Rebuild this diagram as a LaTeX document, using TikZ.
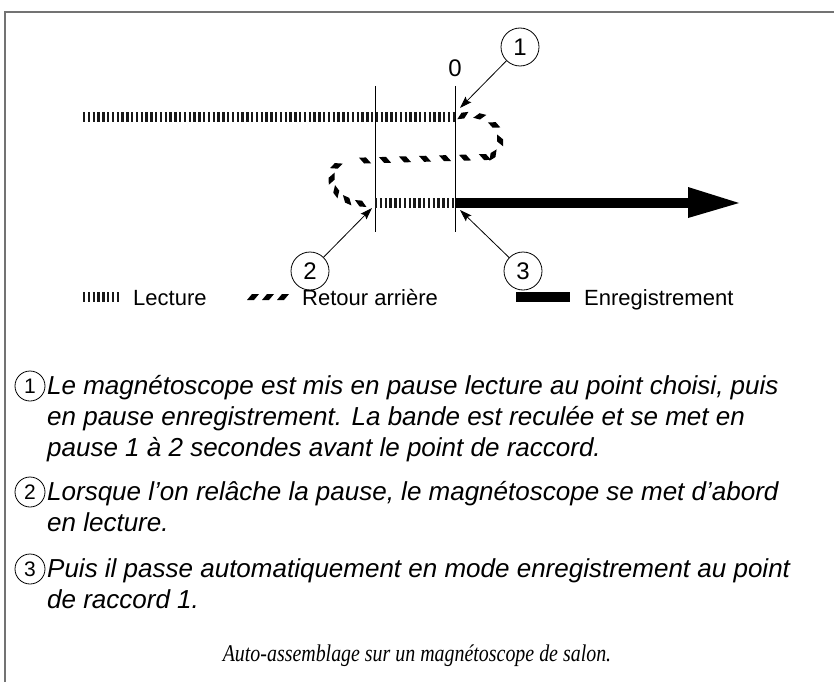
\documentclass[tikz,border=0pt]{standalone}
\usepackage{fontspec}
\usepackage{graphicx}
\setmainfont{Liberation Sans}
\newfontfamily\capfont{Liberation Serif}
\usetikzlibrary{arrows.meta,decorations.markings}
\begin{document}
\begin{tikzpicture}[x=1pt,y=-1pt,
  frame/.style={draw=black!55, line width=1.4pt},
  lecture/.style={draw=black!90, line width=9.5pt, dash pattern=on 2.4pt off 2.4pt},
  recband/.style={draw=black, line width=9.5pt},
  guide/.style={draw=black, line width=0.9pt},
  numc/.style={circle, draw, line width=0.8pt, minimum size=38pt, inner sep=0pt, font=\fontsize{24}{24}\selectfont},
  smallc/.style={circle, draw, line width=0.8pt, minimum size=30pt, inner sep=0pt, font=\fontsize{21}{21}\selectfont},
  ptr/.style={draw, line width=0.8pt, -{Stealth[length=12pt,width=8pt,inset=2pt]}},
  legtext/.style={anchor=base west, inner sep=0pt, font=\fontsize{22}{22}\selectfont},
  body/.style={anchor=base west, inner sep=0pt, font=\fontsize{26}{31}\selectfont\itshape},
  rwA/.style={decoration={markings, mark=between positions #1 with {\fill (-6,3) -- (1,3) -- (6,-3) -- (-1,-3) -- cycle;}}, decorate},
  rwB/.style={decoration={markings, mark=between positions #1 with {\fill (-6,-3) -- (1,-3) -- (6,3) -- (-1,3) -- cycle;}}, decorate},
]
\useasboundingbox (0,0) rectangle (834,682);
% frame
\draw[frame] (5,682) -- (5,12) -- (834,12);

% guides
\coordinate (g1top) at (375,86);
\coordinate (g1bot) at (375,232);
\coordinate (g2top) at (455,86);
\coordinate (g2bot) at (455,232);
\draw[guide] (g1top) -- (g1bot);
\draw[guide] (g2top) -- (g2bot);
\node[font=\fontsize{24}{24}\selectfont, inner sep=0pt] (zero) at (455,68) {0};

% tape paths
\coordinate (lstart) at (83,117);
\coordinate (p0) at (455,117);
\coordinate (m1) at (487,157);
\coordinate (m2) at (347,161);
\coordinate (p1) at (375,203);
\coordinate (p2) at (455,203);
\coordinate (recEnd) at (690,203);
\draw[lecture] (lstart) -- (p0);
\draw[lecture] (p1) -- (p2);
\path[rwA={8pt and 1 step 17pt}] (p0) .. controls (505,105) and (510,155) .. (m1);
\path[rwB={2pt and 1 step 20pt}] (m1) -- (m2);
\path[rwB={12pt and 0.95 step 14pt}] (m2) .. controls (322,163) and (325,210) .. (p1);
\draw[recband] (p2) -- (recEnd);
\fill (688,187) -- (739,203) -- (688,218) -- cycle;

% numbered callouts
\node[numc] (c1) at (520,47) {1};
\node[numc] (c2) at (310,271) {2};
\node[numc] (c3) at (523,271) {3};
\coordinate (t1) at (460,108);
\coordinate (t2) at (372,208);
\coordinate (t3) at (460,210);
\draw[ptr] (c1) -- (t1);
\draw[ptr] (c2) -- (t2);
\draw[ptr] (c3) -- (t3);

% legend
\coordinate (la) at (83,297);
\coordinate (lb) at (121,297);
\draw[lecture] (la) -- (lb);
\node[legtext] (leg1) at (133,305) {Lecture};
\foreach \xx in {253,268,283}{\fill[shift={(\xx,297)}] (-6,3) -- (1,3) -- (6,-3) -- (-1,-3) -- cycle;}
\node[legtext] (leg2) at (302,305) {Retour arrière};
\coordinate (ra) at (516,297);
\coordinate (rb) at (570,297);
\draw[recband] (ra) -- (rb);
\node[legtext] (leg3) at (584,305) {Enregistrement};

% explanations
\node[smallc] (n1) at (30,386) {1};
\node[body] (l11) at (47,394) {Le magnétoscope est mis en pause lecture au point choisi, puis};
\node[body] (l12) at (47,425) {en pause enregistrement. La bande est reculée et se met en};
\node[body] (l13) at (47,456) {pause 1 à 2 secondes avant le point de raccord.};
\node[smallc] (n2) at (30,492) {2};
\node[body] (l21) at (47,500) {Lorsque l’on relâche la pause, le magnétoscope se met d’abord};
\node[body] (l22) at (47,531) {en lecture.};
\node[smallc] (n3) at (30,569) {3};
\node[body] (l31) at (47,577) {Puis il passe automatiquement en mode enregistrement au point};
\node[body] (l32) at (47,608) {de raccord 1.};

% caption
\node[anchor=base, inner sep=0pt, font=\capfont\fontsize{24}{24}\selectfont\itshape] (cap) at (417,661) {\scalebox{0.83}[1]{Auto-assemblage sur un magnétoscope de salon.}};
\end{tikzpicture}
\end{document}
